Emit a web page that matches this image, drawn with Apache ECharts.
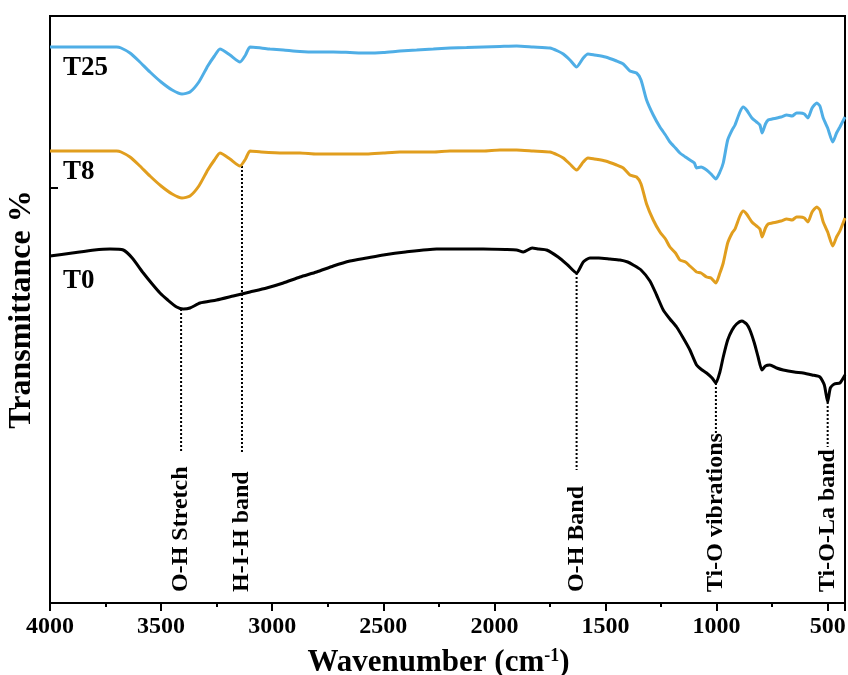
<!DOCTYPE html>
<html>
<head>
<meta charset="utf-8">
<script src="https://cdn.jsdelivr.net/npm/echarts@6/dist/echarts.min.js"></script>
<style>
  html, body { margin: 0; padding: 0; background: #fff; }
  #chart { width: 848px; height: 675px; }
</style>
</head>
<body>
<div id="chart"></div>
<script>
// FTIR spectra of T0, T8 and T25 samples (offset transmittance, arbitrary units)
const wnT25 = [4000, 3850, 3700, 3680, 3640, 3600, 3550, 3500, 3450, 3406, 3370, 3330, 3290, 3260, 3235, 3190, 3145, 3120, 3100, 3050, 3010, 2950, 2875, 2800, 2725, 2650, 2575, 2500, 2425, 2350, 2275, 2200, 2125, 2050, 1975, 1900, 1825, 1750, 1715, 1690, 1660, 1630, 1600, 1579, 1550, 1500, 1450, 1420, 1390, 1360, 1340, 1315, 1285, 1255, 1230, 1210, 1185, 1165, 1140, 1120, 1100, 1090, 1070, 1045, 1025, 1003, 985, 970, 950, 930, 917, 895, 880, 865, 841, 820, 805, 795, 780, 768, 750, 729, 710, 684, 660, 640, 625, 605, 589, 570, 549, 535, 520, 500, 477, 460, 445, 422];
const tT25 = [556, 556, 556, 555, 550, 542, 531, 521, 513, 509, 511, 521, 537, 547, 554, 548, 541, 548, 556, 555, 554, 553, 551.5, 551, 551, 550.5, 550, 550.5, 552, 553, 554, 555, 555.5, 556, 556.5, 557, 556, 555, 552, 549, 543, 536, 545, 549, 548, 546, 542, 539, 532, 530, 523, 503, 488, 476, 468, 461, 455, 450, 446, 443, 440, 435, 436, 433, 429, 424, 431, 440, 463, 473, 478, 491, 496, 493, 485, 481, 478, 470, 479, 483, 484, 485, 486, 488, 487, 490, 490, 489, 485, 495, 500, 497, 485, 475, 461, 470, 476, 486];

const wnT8 = [4000, 3850, 3700, 3680, 3640, 3600, 3550, 3500, 3450, 3406, 3370, 3330, 3290, 3260, 3235, 3190, 3145, 3120, 3100, 3050, 2950, 2875, 2800, 2725, 2650, 2575, 2500, 2425, 2350, 2275, 2200, 2125, 2050, 1975, 1900, 1825, 1750, 1715, 1690, 1660, 1630, 1600, 1579, 1550, 1500, 1450, 1420, 1390, 1360, 1340, 1315, 1285, 1255, 1230, 1210, 1185, 1165, 1140, 1120, 1100, 1090, 1070, 1045, 1025, 1003, 985, 970, 950, 930, 917, 895, 880, 865, 841, 820, 805, 795, 780, 768, 750, 729, 710, 684, 660, 640, 625, 605, 589, 570, 549, 535, 520, 500, 477, 460, 445, 422];
const tT8 = [452, 452, 452, 451, 446, 438, 427, 417, 409, 405, 407, 417, 433, 443, 450, 444, 437, 444, 452, 451, 450, 450, 449, 449, 449, 449, 450, 451, 451, 451, 452, 452, 452, 453, 453, 452, 451, 448, 445, 439, 433, 441, 445, 444, 442, 438, 435, 428, 426, 419, 399, 383, 371, 364, 356, 350, 343, 341, 337, 333, 331, 330, 326, 325, 320, 330, 340, 360, 370, 374, 387, 392, 389, 381, 377, 374, 366, 375, 379, 380, 381, 382, 384, 383, 386, 386, 385, 381, 391, 396, 393, 381, 371, 357, 366, 372, 385];

const wnT0 = [4000, 3900, 3800, 3730, 3670, 3630, 3580, 3540, 3505, 3470, 3430, 3400, 3370, 3325, 3250, 3175, 3100, 3025, 2950, 2875, 2800, 2725, 2650, 2575, 2500, 2400, 2260, 2150, 2050, 1950, 1900, 1870, 1830, 1800, 1765, 1713, 1670, 1630, 1600, 1570, 1530, 1480, 1435, 1400, 1375, 1340, 1300, 1270, 1240, 1210, 1180, 1150, 1120, 1090, 1065, 1045, 1020, 1003, 985, 970, 950, 930, 910, 886, 865, 850, 830, 813, 796, 780, 760, 730, 700, 650, 610, 570, 535, 515, 500, 488, 470, 445, 422];
const tT0 = [347, 350, 353, 354, 353, 345, 330, 319, 310, 303, 296, 294, 295, 300, 303, 307, 311, 315, 320, 326, 331, 337, 342, 345, 348, 351, 354, 354, 354, 353.5, 353, 351, 355, 354, 353, 346, 338, 330, 341, 345, 345, 344, 343, 341, 338, 333, 322, 308, 293, 284, 276, 265, 253, 238, 233, 230, 225, 220, 231, 246, 263, 273, 279, 282, 279, 273, 260, 246, 233, 237, 238, 235, 233, 231, 230, 228, 226, 218, 201, 215, 219, 220, 228];

// Sample names and where their tags sit
const sampleNames = ['T25', 'T8', 'T0'];
const sampleTagWn = [3941, 3941, 3941];
const sampleTagT = [535, 431, 322];

// Assigned bands: position, dotted-line span, label
const bandNames = ['O-H Stretch', 'H-I-H band', 'O-H Band', 'Ti-O vibrations', 'Ti-O-La band'];
const bandWn = [3410, 3136, 1630, 1003, 500];
const bandTop = [294, 437, 330, 220, 201];
const bandBottom = [151, 151, 133, 170, 156];
const bandLabelT = 11;

// Tick labels on the wavenumber axis
const xTicks = [4000, 3500, 3000, 2500, 2000, 1500, 1000, 500];
const xMin = 422, xMax = 4000;

const FONT = '"Liberation Serif", "Times New Roman", serif';

const pairs = (xs, ys) => xs.map((w, i) => [-w, ys[i]]);

const spectrumSeries = [
  { name: 'T25', data: pairs(wnT25, tT25), color: '#4FAEE6' },
  { name: 'T8', data: pairs(wnT8, tT8), color: '#E19E1E' },
  { name: 'T0', data: pairs(wnT0, tT0), color: '#000000' }
].map(s => ({
  name: s.name,
  type: 'line',
  data: s.data,
  symbol: 'none',
  smooth: 0.2,
  lineStyle: { color: s.color, width: 3 },
  z: 3,
  silent: true
}));

const bandLineSeries = bandWn.map((w, i) => ({
  type: 'line',
  data: [[-w, bandTop[i]], [-w, bandBottom[i]]],
  symbol: 'none',
  lineStyle: { color: '#000', width: 2, type: [2, 2] },
  z: 2,
  silent: true
}));

const textLabel = (size, extra) => Object.assign({
  show: true,
  position: [0, 0],
  formatter: p => p.name,
  fontFamily: FONT,
  fontWeight: 'bold',
  fontSize: size,
  color: '#000',
  opacity: 1
}, extra);

const bandLabelSeries = {
  type: 'scatter',
  symbolSize: 0,
  silent: true,
  itemStyle: { opacity: 1 },
  data: bandWn.map((w, i) => ({ value: [-w, bandLabelT], name: bandNames[i] })),
  label: textLabel(24, { rotate: 90, align: 'left', verticalAlign: 'middle' })
};

const sampleTagSeries = {
  type: 'scatter',
  symbolSize: 0,
  silent: true,
  itemStyle: { opacity: 1 },
  data: sampleNames.map((n, i) => ({ value: [-sampleTagWn[i], sampleTagT[i]], name: n })),
  label: textLabel(27, { align: 'left', verticalAlign: 'middle' })
};

const chart = echarts.init(document.getElementById('chart'), null, { renderer: 'canvas' });
chart.setOption({
  animation: false,
  backgroundColor: '#fff',
  grid: {
    left: 50, right: 3, top: 16, bottom: 72,
    outerBoundsMode: 'none',
    containLabel: false,
    show: true, borderColor: '#000', borderWidth: 2, backgroundColor: 'transparent'
  },
  xAxis: [{
    type: 'value',
    min: -xMax,
    max: -xMin,
    interval: 500,
    name: 'Wavenumber (cm{sup|-1})',
    nameLocation: 'middle',
    nameGap: 44,
    nameTextStyle: {
      fontFamily: FONT, fontWeight: 'bold', fontSize: 31, color: '#000',
      padding: [0, 18, 0, 0],
      rich: { sup: { fontFamily: FONT, fontWeight: 'bold', fontSize: 18, verticalAlign: 'top', padding: [0, 0, 14, 0] } }
    },
    axisLine: { show: true, lineStyle: { color: '#000', width: 2 } },
    axisTick: { show: true, inside: false, length: 8, lineStyle: { color: '#000', width: 2 } },
    minorTick: { show: true, splitNumber: 2, length: 4, lineStyle: { color: '#000', width: 2 } },
    splitLine: { show: false },
    axisLabel: {
      showMaxLabel: false,
      margin: 12,
      fontFamily: FONT, fontWeight: 'bold', fontSize: 24, color: '#000',
      formatter: v => (xTicks.indexOf(-v) >= 0 ? String(-v) : '')
    }
  }],
  yAxis: [{
    type: 'value',
    min: 0,
    max: 587,
    interval: 415,
    name: 'Transmittance %',
    nameLocation: 'middle',
    nameGap: 12,
    nameTextStyle: { fontFamily: FONT, fontWeight: 'bold', fontSize: 32, color: '#000' },
    axisLine: { show: true, lineStyle: { color: '#000', width: 2 } },
    axisTick: { show: true, inside: true, length: 8, lineStyle: { color: '#000', width: 2 } },
    axisLabel: { show: false },
    splitLine: { show: false }
  }],
  series: [...spectrumSeries, ...bandLineSeries, bandLabelSeries, sampleTagSeries]
});
</script>
</body>
</html>
